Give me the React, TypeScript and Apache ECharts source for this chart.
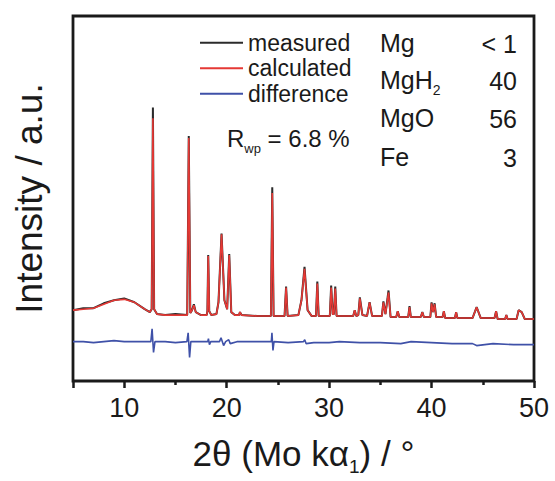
import React, { useEffect, useRef } from 'react';
import * as echarts from 'echarts';

const FONT = '"Liberation Sans", Arial, Helvetica, sans-serif';

// x axis (2θ / °)
const xMin = 5;
const xMax = 50;
const majorTicks = [5, 10, 20, 30, 40, 50];
const tickLabels = [10, 20, 30, 40, 50];
const minorTicks = [15, 25, 35, 45];

// intensity (a.u.)
const yMin = 0;
const yMax = 371;

// calculated pattern [2θ, I]
const calculated: [number, number][] = [
  [5.0, 72], [6.0, 73], [7.0, 74], [8.0, 78], [9.0, 82], [10.0, 83], [11.0, 80], [12.0, 73],
  [12.5, 70], [12.68, 73], [12.8, 267], [12.92, 73], [13.2, 68], [14.0, 67], [15.0, 67],
  [16.15, 67], [16.3, 247], [16.45, 69], [16.62, 72], [16.8, 77], [16.98, 70], [17.5, 67],
  [18.05, 67], [18.12, 71], [18.2, 127], [18.3, 71], [18.5, 67], [19.0, 68], [19.2, 80],
  [19.5, 149], [19.78, 82], [20.05, 73], [20.25, 128], [20.45, 70], [20.8, 67], [21.2, 67],
  [21.3, 70], [21.45, 67], [23.0, 66], [24.32, 66], [24.45, 191], [24.58, 66], [25.65, 66],
  [25.8, 95], [25.95, 66], [27.0, 67], [27.3, 82], [27.6, 114], [27.9, 72], [28.3, 66],
  [28.72, 66], [28.85, 99], [28.98, 66], [30.07, 66], [30.2, 95], [30.35, 68], [30.47, 68],
  [30.6, 94], [30.73, 66], [32.35, 66], [32.5, 72], [32.65, 66], [32.85, 67], [33.0, 84],
  [33.25, 67], [33.7, 66], [33.95, 80], [34.2, 66], [35.15, 66], [35.3, 80], [35.5, 68],
  [35.8, 90], [36.0, 65], [36.55, 65], [36.7, 71], [36.85, 65], [37.72, 65], [37.85, 75],
  [37.98, 65], [38.95, 65], [39.1, 70], [39.25, 65], [39.88, 65], [40.0, 79], [40.15, 70],
  [40.3, 78], [40.45, 65], [41.08, 65], [41.2, 71], [41.33, 64], [42.28, 64], [42.4, 70],
  [42.52, 64], [44.0, 64], [44.4, 75], [44.8, 64], [46.15, 64], [46.3, 71], [46.45, 63],
  [47.18, 63], [47.3, 67], [47.42, 63], [48.3, 63], [48.5, 72], [48.8, 70], [49.1, 63],
  [50.0, 63],
];

// measured pattern [2θ, I]
const measured: [number, number][] = [
  [5.0, 72], [6.0, 74], [7.0, 74], [8.0, 79], [9.0, 82], [10.0, 84], [11.0, 80], [12.0, 73],
  [12.5, 70], [12.68, 73], [12.8, 278], [12.92, 73], [13.2, 68], [14.0, 67], [15.0, 68],
  [16.15, 67], [16.3, 249], [16.45, 69], [16.62, 72], [16.8, 78], [16.98, 70], [17.5, 67],
  [18.05, 67], [18.12, 71], [18.2, 128], [18.3, 71], [18.5, 67], [19.0, 68], [19.2, 80],
  [19.5, 150], [19.78, 82], [20.05, 73], [20.25, 129], [20.45, 70], [20.8, 67], [21.2, 67],
  [21.3, 70], [21.45, 67], [23.0, 66], [24.32, 66], [24.45, 197], [24.58, 66], [25.65, 66],
  [25.8, 96], [25.95, 66], [27.0, 67], [27.3, 82], [27.6, 116], [27.9, 72], [28.3, 66],
  [28.72, 66], [28.85, 101], [28.98, 66], [30.07, 66], [30.2, 97], [30.35, 68], [30.47, 68],
  [30.6, 96], [30.73, 66], [32.35, 66], [32.5, 72], [32.65, 66], [32.85, 67], [33.0, 85],
  [33.25, 67], [33.7, 66], [33.95, 80], [34.2, 66], [35.15, 66], [35.3, 81], [35.5, 68],
  [35.8, 92], [36.0, 65], [36.55, 65], [36.7, 71], [36.85, 65], [37.72, 65], [37.85, 76],
  [37.98, 65], [38.95, 65], [39.1, 70], [39.25, 65], [39.88, 65], [40.0, 80], [40.15, 70],
  [40.3, 79], [40.45, 65], [41.08, 65], [41.2, 71], [41.33, 64], [42.28, 64], [42.4, 70],
  [42.52, 64], [44.0, 64], [44.4, 75], [44.8, 64], [46.15, 64], [46.3, 71], [46.45, 63],
  [47.18, 63], [47.3, 67], [47.42, 63], [48.3, 63], [48.5, 72], [48.8, 70], [49.1, 63],
  [50.0, 63],
];

// difference curve [2θ, I]
const difference: [number, number][] = [
  [5.0, 40], [6.0, 40], [7.0, 39], [8.0, 40], [9.0, 41], [10.0, 40], [11.0, 40], [12.6, 40],
  [12.72, 53], [12.86, 29], [13.0, 40], [14.0, 40], [15.0, 39], [16.12, 40], [16.24, 49],
  [16.38, 24], [16.5, 40], [17.5, 40], [18.15, 40], [18.22, 43], [18.32, 37], [18.45, 40],
  [19.3, 40], [19.45, 44], [19.7, 36], [19.9, 40], [20.2, 42], [20.35, 38], [21.0, 40],
  [23.0, 40], [24.36, 40], [24.42, 49], [24.52, 31], [24.62, 40], [26.0, 39], [27.5, 40],
  [27.62, 42], [27.75, 38], [28.5, 39], [30.0, 39], [31.0, 40], [33.0, 39], [35.0, 39],
  [37.0, 38], [38.0, 40], [40.0, 39], [42.0, 38], [44.0, 38], [44.4, 36], [46.0, 38],
  [48.0, 37], [50.0, 37],
];

// refined phase fractions (wt%)
const phaseNames = ['Mg', 'MgH{s|2}', 'MgO', 'Fe'];
const phaseValues = ['< 1', '40', '56', '3'];
const rwpText = '{m|R}{s|wp}{m| = 6.8 %}';

const seriesNames = ['measured', 'calculated', 'difference'];
const seriesColors = ['#2b2b2b', '#e53935', '#3f51a8'];

export default function App() {
  const ref = useRef<HTMLDivElement>(null);

  useEffect(() => {
    if (!ref.current) return;
    const chart = echarts.init(ref.current, undefined, { renderer: 'svg' });

    const rowY = [44, 81, 119, 158];
    const subRich = {
      m: { fontSize: 24, fontFamily: FONT, color: '#1a1a1a', lineHeight: 28 },
      s: { fontSize: 13, fontFamily: FONT, color: '#1a1a1a', lineHeight: 13, verticalAlign: 'bottom', padding: [0, 0, -3, 0] },
    };
    const tableRich = {
      m: { fontSize: 25, fontFamily: FONT, color: '#1a1a1a', lineHeight: 28 },
      s: { fontSize: 14, fontFamily: FONT, color: '#1a1a1a', lineHeight: 14, verticalAlign: 'bottom', padding: [0, 0, -3, 0] },
    };

    const graphic: any[] = [];
    phaseNames.forEach((n, i) => {
      graphic.push({
        type: 'text',
        left: 380,
        top: rowY[i] - 14,
        style: {
          text: n.split(/(\{s\|[^}]*\})/).map((p) => (p.startsWith('{s|') ? p : p ? `{m|${p}}` : '')).join(''),
          rich: tableRich,
          fill: '#1a1a1a',
        },
      });
      graphic.push({
        type: 'text',
        right: 555 - 517,
        top: rowY[i] - 14,
        style: { text: phaseValues[i], font: `25px ${FONT}`, fill: '#1a1a1a', lineHeight: 28 },
      });
    });
    graphic.push({
      type: 'text',
      left: 227,
      top: 126,
      style: { text: rwpText, rich: subRich, fill: '#1a1a1a' },
    });

    chart.setOption({
      animation: false,
      backgroundColor: '#ffffff',
      textStyle: { fontFamily: FONT },
      grid: {
        left: 73,
        right: 21,
        top: 16,
        bottom: 93,
        show: true,
        borderColor: '#1a1a1a',
        borderWidth: 2.8,
        backgroundColor: 'transparent',
      },
      legend: {
        orient: 'vertical',
        left: 195,
        top: 26,
        itemWidth: 43,
        itemHeight: 2,
        itemGap: 2,
        icon: 'rect',
        selectedMode: false,
        data: seriesNames,
        textStyle: { fontSize: 23, fontFamily: FONT, color: '#1a1a1a', padding: [0, 0, 0, 0], lineHeight: 23.5 },
      },
      xAxis: [
        {
          type: 'value',
          min: xMin,
          max: xMax,
          interval: 5,
          axisLine: { show: false },
          axisTick: { show: true, customValues: majorTicks, length: 7, lineStyle: { color: '#1a1a1a', width: 2.5 } },
          axisLabel: {
            show: true,
            customValues: tickLabels,
            fontSize: 27,
            fontFamily: FONT,
            color: '#1a1a1a',
            margin: 13,
          },
          splitLine: { show: false },
          name: '2θ (Mo kα{s|1}) / °',
          nameLocation: 'middle',
          nameGap: 54,
          nameTextStyle: {
            fontSize: 35,
            fontFamily: FONT,
            color: '#1a1a1a',
            lineHeight: 36,
            rich: {
              s: { fontSize: 19, fontFamily: FONT, color: '#1a1a1a', lineHeight: 19, verticalAlign: 'bottom', padding: [0, 0, -5, 0] },
            },
          },
        },
        {
          type: 'value',
          min: xMin,
          max: xMax,
          interval: 5,
          position: 'bottom',
          axisLine: { show: false },
          axisTick: { show: true, customValues: minorTicks, length: 4, lineStyle: { color: '#1a1a1a', width: 2.5 } },
          axisLabel: { show: false },
          splitLine: { show: false },
        },
      ],
      yAxis: {
        type: 'value',
        min: yMin,
        max: yMax,
        axisLine: { show: false },
        axisTick: { show: false },
        axisLabel: { show: false },
        splitLine: { show: false },
        name: 'Intensity / a.u.',
        nameLocation: 'middle',
        nameGap: 25,
        nameTextStyle: { fontSize: 37, fontFamily: FONT, color: '#1a1a1a' },
      },
      series: [
        {
          name: seriesNames[0],
          type: 'line',
          data: measured,
          showSymbol: false,
          symbol: 'none',
          color: seriesColors[0],
          lineStyle: { color: seriesColors[0], width: 2 },
          z: 2,
        },
        {
          name: seriesNames[1],
          type: 'line',
          data: calculated,
          showSymbol: false,
          symbol: 'none',
          color: seriesColors[1],
          lineStyle: { color: seriesColors[1], width: 1.6 },
          z: 3,
        },
        {
          name: seriesNames[2],
          type: 'line',
          data: difference,
          showSymbol: false,
          symbol: 'none',
          color: seriesColors[2],
          lineStyle: { color: seriesColors[2], width: 1.6 },
          z: 3,
        },
      ],
      graphic,
    });

    return () => chart.dispose();
  }, []);

  return (
    <div
      ref={ref}
      style={{ position: 'fixed', left: 0, top: 0, width: 555, height: 481, background: '#fff' }}
    />
  );
}
